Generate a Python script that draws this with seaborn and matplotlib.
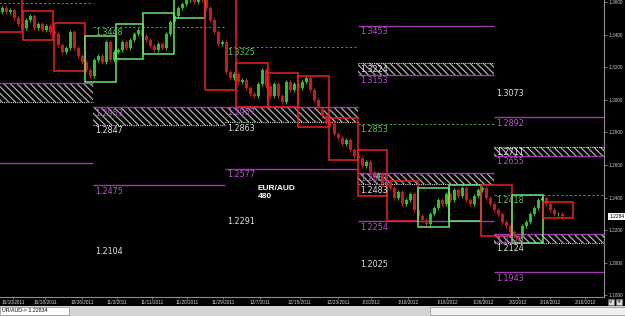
import numpy as np
import pandas as pd
import matplotlib
matplotlib.use("Agg")
import matplotlib.pyplot as plt
from matplotlib.patches import Rectangle
import seaborn as sns

# ---------------- data ----------------
# 8-hour closes, sampled every second bar (price)
closes = [
    1.3563, 1.3538, 1.3551, 1.3502, 1.3465, 1.3440,
    1.3489, 1.3514, 1.3440, 1.3465, 1.3428, 1.3452, 1.3416,
    1.3403, 1.3336, 1.3293, 1.3318, 1.3416, 1.3318, 1.3268, 1.3232,
    1.3183, 1.3146, 1.3244, 1.3268, 1.3232, 1.3354, 1.3244, 1.3293,
    1.3305, 1.3354, 1.3318, 1.3367, 1.3403, 1.3428, 1.3391,
    1.3367, 1.3330, 1.3305, 1.3342, 1.3318, 1.3403, 1.3477, 1.3514,
    1.3563, 1.3587, 1.3612, 1.3624, 1.3600, 1.3637, 1.3612,
    1.3563, 1.3489, 1.3416, 1.3342, 1.3354, 1.3170, 1.3133, 1.3158,
    1.3109, 1.3121, 1.3072, 1.3035, 1.3023, 1.3097, 1.3183, 1.3084,
    1.3023, 1.3097, 1.3023, 1.2986, 1.3109, 1.3060, 1.3097, 1.3072,
    1.3109, 1.3133, 1.3060, 1.2999, 1.2949, 1.2900, 1.2863,
    1.2851, 1.2790, 1.2765, 1.2729, 1.2753, 1.2692, 1.2655,
    1.2643, 1.2594, 1.2618, 1.2557, 1.2520, 1.2545, 1.2483, 1.2495,
    1.2459, 1.2397, 1.2434, 1.2360, 1.2385, 1.2422, 1.2324, 1.2287,
    1.2262, 1.2238, 1.2299, 1.2336, 1.2385, 1.2360, 1.2422,
    1.2385, 1.2446, 1.2410, 1.2459, 1.2385, 1.2360, 1.2410, 1.2446,
    1.2459, 1.2397, 1.2360, 1.2324, 1.2299, 1.2250, 1.2225, 1.2189,
    1.2164, 1.2152, 1.2225, 1.2250, 1.2299, 1.2336, 1.2385, 1.2397,
    1.2360, 1.2324, 1.2299, 1.2299, 1.2287,
]
first_open = 1.3540

# weekly range boxes (bar index units)
box_start = [-5, 11.5, 27, 42.5, 58, 71.5, 87, 102.5, 118, 134, 149, 164.5,
             179, 193.5, 209, 224.5, 240.5, 256, 271.5]
box_end = [11, 26.5, 42.5, 58, 71.5, 87, 102.5, 118, 134, 149, 164.5, 179,
           193.5, 209, 224.5, 240.5, 256, 271.5, 286.5]
box_high = [1.3650, 1.3545, 1.3471, 1.3391, 1.3465, 1.3532, 1.3680, 1.3680,
            1.3225, 1.3164, 1.3146, 1.2888, 1.2692, 1.2502, 1.2459, 1.2477,
            1.2477, 1.2416, 1.2373]
box_low = [1.3416, 1.3367, 1.3176, 1.3109, 1.3250, 1.3281, 1.3502, 1.3060,
           1.2956, 1.2956, 1.2833, 1.2630, 1.2410, 1.2256, 1.2219, 1.2256,
           1.2164, 1.2121, 1.2275]
box_dir = ["down", "down", "down", "up", "up", "up", "up", "down", "down",
           "down", "down", "down", "down", "down", "up", "up", "down", "up",
           "down"]

# monthly pivot periods (bar index units)
period_start = [-10, 46.5, 112.5, 179, 247]
period_end = [46.5, 112.5, 179, 247, 302]
pivot_levels = [1.3594, 1.3448, 1.3325, 1.2853, 1.2418]
purple_levels = [[1.2612], [1.2475], [1.2577], [1.3453, 1.2254], [1.2892, 1.1943]]
white_levels = [[], [1.2104], [1.2291], [1.2025], [1.3073]]
band_period = [0, 1, 2, 3, 3, 4, 4]
band_purple = [1.3103, 1.2953, 1.2957, 1.3153, 1.2551, 1.2655, 1.2176]
band_white = [1.2986, 1.2847, 1.2863, 1.3224, 1.2483, 1.2711, 1.2124]

# axis labels
date_pos = [6.5, 22.5, 41, 58.5, 76, 93.5, 111.5, 130, 150, 169, 185.5, 204,
            223.5, 241.5, 259, 275, 292.5]
date_labels = ["10/10/2011", "10/18/2011", "10/26/2011", "11/3/2011",
               "11/11/2011", "11/20/2011", "11/29/2011", "12/7/2011",
               "12/15/2011", "12/23/2011", "1/3/2012", "1/10/2012",
               "1/18/2012", "1/26/2012", "2/3/2012", "2/10/2012", "2/18/2012"]
price_ticks = [1.18, 1.20, 1.22, 1.24, 1.26, 1.28, 1.30, 1.32, 1.34, 1.36]
last_price = 1.2284
symbol = "EUR/AUD"
timeframe = "480"

# ---------------- style ----------------
sns.set_theme(style="dark", rc={
    "axes.facecolor": "black", "figure.facecolor": "black",
    "axes.edgecolor": "#8c8c8c", "hatch.linewidth": 0.9,
})
plt.rcParams["font.family"] = ["DejaVu Sans"]

RED_C, GREEN_C = "#c41c1c", "#2fbf2f"
RED_BOX, GREEN_BOX = "#ec2020", "#6ae66a"
PURPLE, PURPLE_TXT = "#a038b0", "#b456c4"
PIVOT, PIVOT_TXT = "#3c9c3c", "#5cc05c"
WHITE_TXT = "#e0e0e0"

fig = plt.figure(figsize=(6.25, 3.16), dpi=100)
ax = fig.add_axes([0, 19 / 316, 604 / 625, 297 / 316])
ax.set_facecolor("black")
ax.set_xlim(0, 302)
ax.set_ylim(1.1790, 1.3612)

off = 0.0009  # label drop below its level

# hatched bands
for p, vp, vw in zip(band_period, band_purple, band_white):
    x0, x1 = period_start[p], period_end[p]
    lo, hi = min(vp, vw), max(vp, vw)
    ax.add_patch(Rectangle((x0, lo), x1 - x0, hi - lo, fill=False,
                           hatch="\\" * 5, edgecolor="#b0b0b0", lw=0, zorder=1))
    ax.hlines(vp, x0, x1, color=PURPLE, lw=1.0, zorder=2)
    ax.hlines(vw, x0, x1, color="#d8d8d8", lw=0.8, linestyles=(0, (1, 1)), zorder=2)
    if p > 0:
        ax.text(x0 + 1, vp - off, f"{vp:.4f}", color=PURPLE_TXT, fontsize=5.8,
                va="top", ha="left", zorder=6)
        ax.text(x0 + 1, vw - off, f"{vw:.4f}", color=WHITE_TXT, fontsize=5.8,
                va="top", ha="left", zorder=6)

# pivot, purple and plain levels
for i in range(len(period_start)):
    x0, x1 = period_start[i], period_end[i]
    ax.hlines(pivot_levels[i], x0, x1, color=PIVOT, lw=0.8,
              linestyles=(0, (2, 2)), zorder=2)
    for v in purple_levels[i]:
        ax.hlines(v, x0, x1, color=PURPLE, lw=1.0, zorder=2)
    if i > 0:
        ax.text(x0 + 1, pivot_levels[i] - off, f"{pivot_levels[i]:.4f}",
                color=PIVOT_TXT, fontsize=5.8, va="top", ha="left", zorder=6)
        for v in purple_levels[i]:
            ax.text(x0 + 1, v - off, f"{v:.4f}", color=PURPLE_TXT,
                    fontsize=5.8, va="top", ha="left", zorder=6)
        for v in white_levels[i]:
            ax.text(x0 + 1, v - off, f"{v:.4f}", color=WHITE_TXT,
                    fontsize=5.8, va="top", ha="left", zorder=6)

# candles
df = pd.DataFrame({"close": closes})
df["bar"] = 2 * df.index + 1
df["open"] = df["close"].shift(1).fillna(first_open)
wick = 0.0014
df["high"] = df[["open", "close"]].max(axis=1) + wick
df["low"] = df[["open", "close"]].min(axis=1) - wick
df["col"] = np.where(df["close"] >= df["open"], GREEN_C, RED_C)
ax.vlines(df["bar"], df["low"], df["high"], colors=df["col"], lw=0.8, zorder=3)
body = (df["close"] - df["open"]).abs().clip(lower=0.0003)
ax.bar(df["bar"], body, bottom=df[["open", "close"]].min(axis=1),
       width=1.5, color=df["col"], lw=0, zorder=3)

# weekly boxes
for s, e, h, l, d in zip(box_start, box_end, box_high, box_low, box_dir):
    ax.add_patch(Rectangle((s, l), e - s, h - l, fill=False,
                           edgecolor=RED_BOX if d == "down" else GREEN_BOX,
                           lw=1.1, zorder=4))

# symbol label
ax.text(129, 1.2431, f"{symbol}\n{timeframe}", color="white", fontsize=6,
        fontweight="bold", family="Liberation Sans", va="center", ha="left",
        linespacing=1.15, zorder=6)

# axes
for s in ["left", "top"]:
    ax.spines[s].set_visible(False)
for s in ["right", "bottom"]:
    ax.spines[s].set_color("#8c8c8c")
    ax.spines[s].set_linewidth(0.8)
ax.yaxis.tick_right()
ax.set_yticks(price_ticks)
ax.set_yticklabels([f"{v:.4f}" for v in price_ticks])
ax.set_xticks(date_pos)
ax.set_xticklabels(date_labels)
ax.tick_params(axis="y", colors="#8c8c8c", labelcolor="#c8c8c8", length=2,
               width=0.6, pad=1.5, labelsize=3.4, right=True, left=False)
ax.tick_params(axis="x", colors="#8c8c8c", labelcolor="#d8d8d8", length=1.5,
               width=0.6, pad=0.8, labelsize=3.4, bottom=True)
for t in ax.get_xticklabels() + ax.get_yticklabels():
    t.set_family("Liberation Sans")
ax.grid(False)

ax.annotate(f"{last_price:.4f}", xy=(1.0, last_price),
            xycoords=("axes fraction", "data"), xytext=(4, 0),
            textcoords="offset points", va="center", ha="left", fontsize=3.5,
            family="Liberation Sans", color="black",
            bbox=dict(boxstyle="square,pad=0.25", fc="white", ec="none"))

# status bar
sb = fig.add_axes([0, 0, 1, 10 / 316])
sb.set_xlim(0, 625)
sb.set_ylim(0, 10)
sb.axis("off")
sb.add_patch(Rectangle((0, 0), 625, 10, color="#d4d4d4"))
sb.add_patch(Rectangle((0, 0.6), 69, 8.8, facecolor="white", edgecolor="#8a8a8a", lw=0.5))
sb.add_patch(Rectangle((430, 0.6), 195, 8.8, facecolor="#f2f2f2", edgecolor="#8a8a8a", lw=0.5))
sb.text(1.5, 5, "UR/AUD-> 1.22834", fontsize=3.8, family="Liberation Sans",
        va="center", ha="left", color="black")

fig.text(611 / 625, 1 - 302 / 316, "57", fontsize=3, color="black", ha="center",
         va="center", family="Liberation Sans",
         bbox=dict(boxstyle="square,pad=0.2", fc="#dcdcdc", ec="#777777", lw=0.4))
fig.text(619 / 625, 1 - 302 / 316, "TF", fontsize=3, color="black", ha="center",
         va="center", family="Liberation Sans",
         bbox=dict(boxstyle="square,pad=0.2", fc="#dcdcdc", ec="#777777", lw=0.4))

fig.savefig("out.png", dpi=100, facecolor="black")
